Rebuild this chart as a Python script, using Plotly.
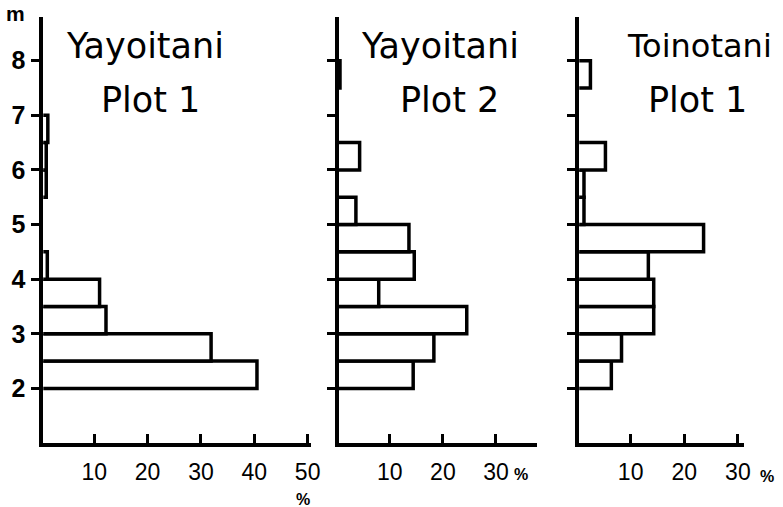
import plotly.graph_objects as go

W, H = 783, 507

# Height classes (lower edge of each 0.5 m class)
height_class_m = [2.0, 2.5, 3.0, 3.5, 4.0, 4.5, 5.0, 5.5, 6.0, 6.5, 7.0, 7.5]

yayoitani_plot1 = [40.5, 31.9, 12.2, 11.0, 1.2, 0, 0, 1.0, 1.0, 1.3, 0, 0]
yayoitani_plot2 = [14.4, 18.3, 24.5, 7.9, 14.6, 13.6, 3.6, 0, 4.3, 0, 0, 0.6]
toinotani_plot1 = [6.4, 8.3, 14.3, 14.3, 13.3, 23.6, 1.3, 1.3, 5.3, 0, 0, 2.5]

series = [yayoitani_plot1, yayoitani_plot2, toinotani_plot1]
titles = [("Yayoitani", "Plot 1"), ("Yayoitani", "Plot 2"), ("Toinotani", "Plot 1")]

x_ticks = [[10, 20, 30, 40, 50], [10, 20, 30], [10, 20, 30]]
x_ranges = [[0.45, 50.7], [0.33, 37.7], [0.42, 31.2]]
y_ticks = [2, 3, 4, 5, 6, 7, 8]
y_range = [1, 8.8]

# pixel placement of each panel (left, right)
panel_px = [(43.8, 315), (342.5, 543), (586, 753)]
y_bottom_px, y_top_px = 443, 17

FONT = "DejaVu Sans"
TICKFONT = "Liberation Sans Narrow, Liberation Sans, sans-serif"
BLACK = "#000000"

fig = go.Figure()
layout = dict(
    width=W, height=H,
    margin=dict(l=0, r=0, t=0, b=0),
    paper_bgcolor="white", plot_bgcolor="white",
    showlegend=False,
    font=dict(family=FONT, color=BLACK),
)

ydom = [1 - y_bottom_px / H, 1 - y_top_px / H]

for i, vals in enumerate(series):
    sfx = "" if i == 0 else str(i + 1)
    fig.add_trace(go.Bar(
        x=vals, y=height_class_m, orientation="h",
        width=0.5, offset=0,
        marker=dict(color="white", line=dict(color=BLACK, width=3.5)),
        xaxis="x" + sfx, yaxis="y" + sfx,
    ))
    l, r = panel_px[i]
    layout["xaxis" + sfx] = dict(
        domain=[l / W, r / W], range=x_ranges[i], anchor="y" + sfx,
        showgrid=False, zeroline=False,
        showline=True, linewidth=4, linecolor=BLACK,
        ticks="inside", ticklen=9, tickwidth=3, tickcolor=BLACK,
        tickvals=x_ticks[i], ticktext=[str(v) for v in x_ticks[i]],
        tickfont=dict(family=TICKFONT, size=23, color=BLACK),
        ticklabelstandoff=5,
        fixedrange=True,
    )
    layout["yaxis" + sfx] = dict(
        domain=ydom, range=y_range, anchor="x" + sfx,
        showgrid=False, zeroline=False,
        showline=True, linewidth=4, linecolor=BLACK,
        ticks="outside", ticklen=8, tickwidth=3, tickcolor=BLACK,
        tickvals=y_ticks,
        ticktext=[str(v) for v in y_ticks] if i == 0 else [""] * len(y_ticks),
        showticklabels=(i == 0),
        tickfont=dict(family="Liberation Sans", size=25, color=BLACK, weight="bold"),
        ticklabelstandoff=1,
        fixedrange=True,
    )

annotations = []
# (text, x_px, y_px, xanchor, size)
title_specs = [
    ("Yayoitani", 147, 46, "center", 35), ("Plot 1", 152, 100, "center", 35),
    ("Yayoitani", 445, 46, "center", 35), ("Plot 2", 455, 100, "center", 35),
    ("Toinotani", 632, 46, "left", 32), ("Plot 1", 706, 100, "center", 35),
]
for text, px, py, xa, sz in title_specs:
    annotations.append(dict(text=text, x=px / W, y=1 - py / H, xref="paper", yref="paper",
                            showarrow=False, xanchor=xa, yanchor="middle",
                            font=dict(family=FONT, size=sz, color=BLACK)))

# unit labels
annotations.append(dict(text="m", x=16 / W, y=1 - 13 / H, xref="paper", yref="paper",
                        showarrow=False, xanchor="center", yanchor="middle",
                        font=dict(family="Liberation Sans", size=21, color=BLACK, weight="bold")))
for (px, py) in [(307, 499), (527, 474), (776, 476)]:
    annotations.append(dict(text="%", x=px / W, y=1 - py / H, xref="paper", yref="paper",
                            showarrow=False, xanchor="center", yanchor="middle",
                            font=dict(family="Liberation Sans", size=16, color=BLACK, weight="bold")))

layout["annotations"] = annotations
fig.update_layout(**layout)
fig.write_html("out.html")
